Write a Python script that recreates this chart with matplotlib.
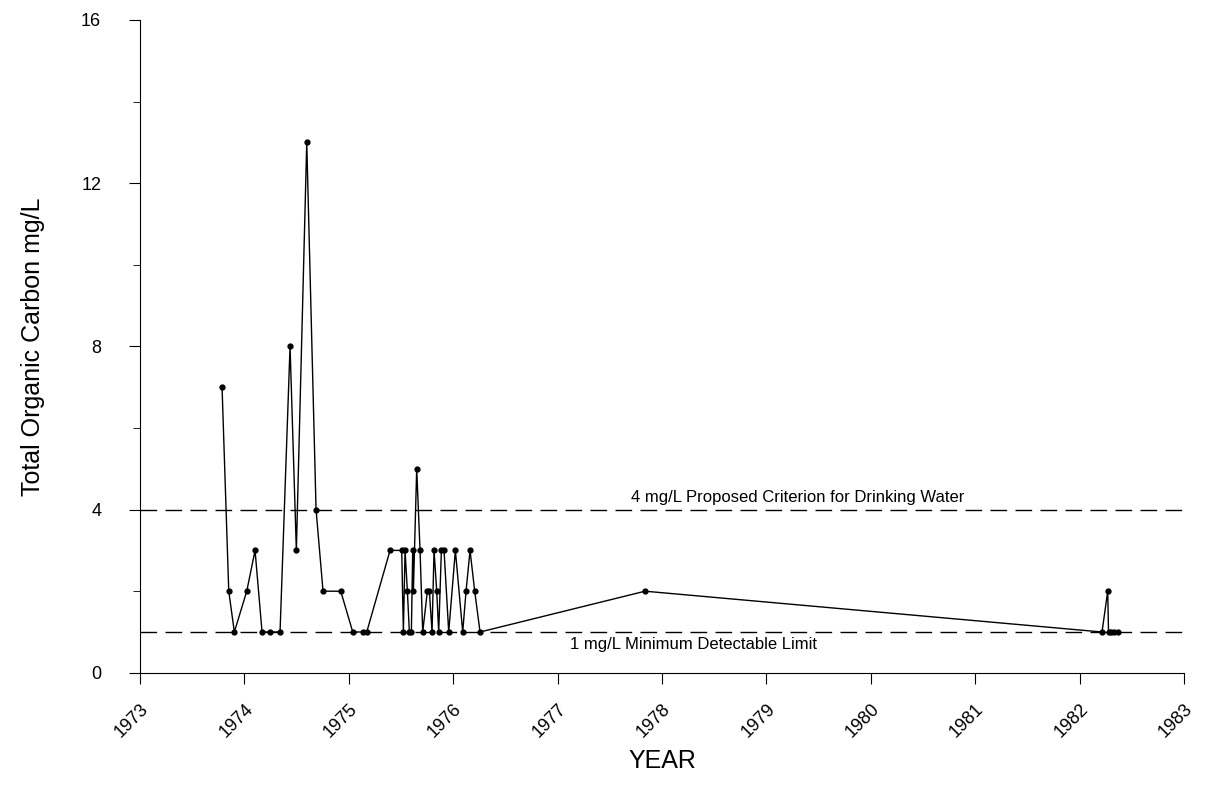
import matplotlib
matplotlib.use("Agg")
import matplotlib.pyplot as plt
import numpy as np

plt.rcParams['font.family'] = ['Liberation Sans', 'DejaVu Sans']

px = [222, 228.7, 234.3, 246.7, 255, 262, 270, 280, 290, 296.3, 306.7, 316, 323, 340.7, 352.7, 362.7, 366.7]
zx = [60, 95, 100, 105, 112, 118, 124, 128, 130, 140, 150, 158, 172, 178, 186, 192, 200, 206, 214, 222, 236, 256, 278, 288, 300, 314, 330]
px += [370 + z / 3 for z in zx]
px += [645, 1102, 1107.7, 1108.5, 1111, 1114, 1118]
years = [1973 + (p - 140) / 104.4 for p in px]
toc = [7, 2, 1, 2, 3, 1, 1, 1, 8, 3, 13, 4, 2, 2, 1, 1, 1,
       3, 3, 1, 3, 2, 1, 1, 3, 2, 5, 3, 1, 2, 2, 1, 3, 2, 1, 3, 3, 1, 3, 1, 2, 3, 2, 1,
       2, 1, 2, 1, 1, 1, 1]

fig = plt.figure(figsize=(12.2, 8), dpi=100)
ax = fig.add_axes([0.1148, 0.159, 0.8557, 0.816])
ax.plot(years, toc, color="black", lw=1, marker="o", ms=3.5)
ax.axhline(4, color="black", lw=1, dashes=(12, 6))
ax.axhline(1, color="black", lw=1, dashes=(12, 6))
ax.text(1979.3, 4.12, "4 mg/L Proposed Criterion for Drinking Water", ha="center", va="bottom", fontsize=12)
ax.text(1978.3, 0.88, "1 mg/L Minimum Detectable Limit", ha="center", va="top", fontsize=12)
ax.set_xlim(1973, 1983)
ax.set_ylim(0, 16)
ax.set_xticks(range(1973, 1984))
ax.set_xticklabels([str(y) for y in range(1973, 1984)], rotation=45, ha="right", rotation_mode="anchor", fontsize=13)
ax.set_yticks([0, 4, 8, 12, 16])
ax.set_yticks(range(0, 17, 2), minor=True)
ax.tick_params(axis="both", direction="out", length=8, labelsize=13)
ax.tick_params(axis="x", pad=12)
ax.tick_params(axis="y", pad=20)
ax.tick_params(axis="y", which="minor", length=5)
for s in ["top", "right"]:
    ax.spines[s].set_visible(False)
ax.set_xlabel("YEAR", fontsize=18, labelpad=6)
ax.set_ylabel("Total Organic Carbon mg/L", fontsize=18, labelpad=26)
fig.savefig("out.png", dpi=100)
